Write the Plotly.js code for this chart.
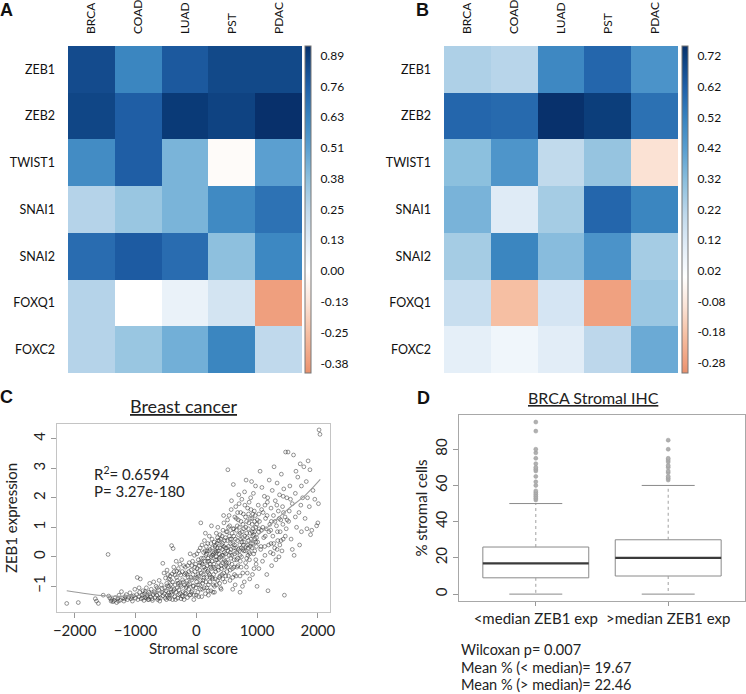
<!DOCTYPE html>
<html>
<head>
<meta charset="utf-8">
<script src="https://cdn.plot.ly/plotly-3.0.1.min.js"></script>
<style>html,body{margin:0;padding:0;background:#fff}#plot{width:746px;height:694px}</style>
</head>
<body>
<div id="plot"></div>
<script>
// ---------- DATA ----------
const heatCols = ['BRCA','COAD','LUAD','PST','PDAC'];
const heatRows = ['ZEB1','ZEB2','TWIST1','SNAI1','SNAI2','FOXQ1','FOXC2'];
const corrA = [
  [0.84, 0.63, 0.79, 0.85, 0.85],
  [0.86, 0.77, 0.90, 0.87, 0.93],
  [0.60, 0.77, 0.43, -0.02, 0.51],
  [0.28, 0.35, 0.43, 0.61, 0.70],
  [0.72, 0.78, 0.72, 0.38, 0.62],
  [0.28, 0.00, 0.09, 0.18, -0.37],
  [0.28, 0.35, 0.45, 0.63, 0.25]
];
const corrB = [
  [0.24, 0.22, 0.50, 0.60, 0.46],
  [0.60, 0.59, 0.75, 0.72, 0.57],
  [0.31, 0.45, 0.20, 0.29, -0.10],
  [0.35, 0.11, 0.26, 0.60, 0.51],
  [0.26, 0.51, 0.32, 0.46, 0.26],
  [0.18, -0.19, 0.14, -0.27, 0.28],
  [0.09, 0.05, 0.10, 0.21, 0.38]
];
const cbTicksA = ['0.89','0.76','0.63','0.51','0.38','0.25','0.13','0.00','-0.13','-0.25','-0.38'];
const cbTicksB = ['0.72','0.62','0.52','0.42','0.32','0.22','0.12','0.02','-0.08','-0.18','-0.28'];

// Panel C: stromal score vs ZEB1 expression
const stromalPoints = [
[-2130,-1.58],[-1940,-1.55],[-1660,-1.42],[-1640,-1.50],[-1610,-1.58],[-1530,-1.30],[-1450,0.08],[-1440,-1.33],
[-1420,-1.40],[-1390,-1.45],[-1370,-1.52],[-1350,-1.48],[-1330,-1.38],[-1310,-1.55],[-1290,-1.42],[-1270,-1.30],[-1250,-1.47],[-1230,-1.18],[-1210,-1.40],[-1190,-1.50],[-1170,-1.35],[-1150,-1.28],[-1130,-1.45],[-1110,-1.38],[-1090,-1.22],[-1070,-1.42],[-1050,-1.50],[-1030,-1.32],[-1010,-1.10],[-1000,-1.40],
[-980,-1.28],[-970,-0.70],[-960,-1.45],[-945,-1.35],[-930,-1.20],[-920,-0.75],[-905,-1.42],[-890,-1.30],[-875,-1.15],[-860,-1.48],[-850,-1.25],[-835,-1.38],[-820,-1.05],[-810,-1.32],[-795,-1.45],[-780,-1.20],[-765,-0.90],[-750,-1.35],[-740,-1.10],[-725,-1.42],[-710,-1.28],[-700,-0.85],[-690,-1.18],[-675,-1.38],[-660,-1.00],[-650,-1.30],[-635,-1.45],[-620,-1.12],[-610,-0.80],[-600,-1.25],[-590,-1.40],[-575,-0.95],[-565,-1.20],[-550,-0.22],[-545,-1.32],[-530,-0.55],[-520,-1.05],[-510,-1.40],[-505,-0.72],
[-495,-1.15],[-485,-0.90],[-475,-1.30],[-465,-0.60],[-455,-1.22],[-445,-1.00],[-435,-1.42],[-425,-0.78],[-415,-1.10],[-405,0.38],[-400,-1.28],[-390,-0.85],[-380,0.28],[-375,-1.15],[-365,-0.50],[-355,-1.35],[-345,-0.95],[-335,-1.20],[-325,-0.70],[-315,-1.05],[-305,-1.40],[-295,-0.40],[-285,-1.12],[-275,-0.88],[-265,-1.25],[-255,-0.62],[-245,-1.00],[-235,-1.32],[-225,-0.78],[-215,-1.18],[-205,-0.30],[-195,-0.95],[-185,-1.22],[-175,-0.55],[-165,-1.05],[-155,-0.82],[-145,-1.38],[-135,-0.68],[-125,-1.10],[-115,-0.20],[-105,-0.92],[-95,-1.28],[-85,-0.45],[-75,-0.78],[-65,-1.15],[-55,-0.60],[-45,-0.98],[-35,-1.30],[-25,-0.35],[-15,-0.72],[-5,-1.05],[-480,-0.45],[-430,-0.65],[-370,-0.35],[-330,-0.15],[-280,-0.55],[-240,-0.10],[-190,-0.60],[-140,-0.30],[-100,0.10],[-60,-0.15],[-20,-0.50],[-460,-1.38],[-390,-1.45],[-310,-0.80],[-250,-1.42],[-160,-1.00],[-80,-1.20],[-30,0.05],[-270,-0.25],[-120,-0.50],[-40,-1.45],[-200,-1.45],[-350,-0.62],[-420,-0.95],
[5,-0.85],[15,-0.40],[25,-1.20],[35,-0.10],[45,-0.65],[55,-0.95],[65,0.30],[75,1.15],[80,-0.55],[90,-1.35],[100,-0.25],[110,-0.80],[120,0.15],[130,-1.05],[140,-0.45],[150,-1.25],[160,0.05],[170,-0.70],[180,-0.30],[190,0.45],[200,-0.95],[210,-0.15],[220,-0.60],[230,0.25],[240,-1.15],[250,-0.40],[260,0.60],[270,-0.75],[280,0.10],[290,-0.25],[300,-1.00],[310,0.35],[320,-0.50],[330,0.80],[340,-0.10],[350,-0.80],[360,0.20],[370,-0.35],[380,0.55],[390,-0.65],[400,0.00],[410,-1.10],[420,0.40],[430,-0.20],[440,0.90],[450,-0.55],[460,0.15],[470,-0.85],[480,0.65],[490,-0.30],[500,0.30],
[10,0.10],[30,-0.60],[50,-0.30],[70,-1.10],[95,0.40],[115,-0.60],[135,0.55],[155,-0.40],[175,-1.05],[195,-0.05],[215,0.70],[235,-0.35],[255,0.05],[275,-1.20],[295,0.50],[315,-0.75],[335,0.15],[355,1.00],[375,-0.05],[395,0.30],[415,-0.40],[435,0.45],[455,1.15],[475,-0.15],[495,0.85],[60,-0.20],[105,-0.90],[145,0.20],[185,-0.15],[225,-0.85],[265,0.30],[305,-0.40],[345,0.45],[385,-0.90],[425,0.70],[465,-0.35],[40,-1.35],[85,-0.05],[125,-0.35],[165,0.35],[205,-0.55],[245,0.00],[285,-0.60],[325,0.20],[365,-0.20],[405,0.60],[445,0.05],[485,-0.65],[150,0.80],[250,1.05],[350,0.65],[450,1.40],[300,-1.20],[200,-1.30],[400,-1.05],
[505,-0.50],[515,1.25],[520,2.95],[525,0.20],[535,-0.20],[545,0.70],[555,-0.80],[565,0.45],[575,1.60],[585,0.05],[595,-0.40],[605,0.95],[615,0.30],[625,-0.10],[635,1.35],[645,0.60],[655,-0.65],[665,0.15],[675,1.05],[685,-0.30],[695,0.75],[705,1.80],[715,0.40],[725,-0.15],[735,1.20],[745,0.00],[755,0.85],[765,-0.55],[775,1.45],[785,0.50],[795,2.20],[805,0.20],[815,1.00],[825,-0.35],[835,0.65],[845,1.65],[855,0.30],[865,1.15],[875,-0.10],[885,0.80],[895,2.00],[905,0.45],[915,1.30],[925,-0.60],[935,0.95],[945,0.10],[955,1.55],[965,0.60],[975,2.40],[985,-0.25],[995,1.10],
[510,0.55],[530,-0.65],[550,1.05],[570,-0.05],[590,0.80],[610,2.45],[630,0.40],[650,1.70],[670,-0.35],[690,0.25],[710,1.00],[730,0.60],[750,1.95],[770,0.25],[790,-0.85],[810,1.35],[830,0.80],[850,0.05],[870,1.85],[890,0.35],[910,2.55],[930,0.70],[950,-0.40],[970,1.40],[990,0.35],[540,1.40],[600,-0.70],[660,0.90],[720,-0.65],[780,0.95],[840,-0.55],[900,1.60],[960,0.85],[560,0.15],[620,-0.35],[680,1.50],[740,0.30],[800,1.75],[860,0.55],[920,1.10],[980,-0.10],[580,1.90],[700,2.10],[820,2.60],[940,2.15],[640,-0.95],[760,-1.00],[880,-0.75],[600,-1.10],[720,-1.20],[1000,-1.00],
[1010,0.50],[1020,1.75],[1030,-0.40],[1040,1.20],[1050,2.90],[1060,0.25],[1070,0.90],[1080,2.35],[1090,-0.15],[1100,1.50],[1110,0.65],[1120,2.05],[1130,0.05],[1140,1.30],[1150,0.95],[1160,-0.60],[1170,1.85],[1180,-1.15],[1190,0.40],[1200,2.60],[1210,1.10],[1220,0.15],[1230,1.65],[1240,-0.30],[1250,2.25],[1260,0.70],[1270,1.40],[1280,3.05],[1290,0.30],[1300,1.90],[1310,-0.10],[1320,1.05],[1330,2.50],[1340,0.55],[1350,1.55],[1360,0.00],[1370,2.10],[1380,0.85],[1390,1.25],[1400,2.80],[1410,0.20],[1420,1.70],[1430,0.60],[1440,2.30],[1450,-1.30],[1460,1.35],[1470,3.55],[1480,0.95],[1490,2.00],
[1025,0.85],[1075,1.60],[1125,0.35],[1175,2.00],[1225,0.90],[1275,0.45],[1325,1.75],[1375,0.40],[1425,1.10],
[1510,3.55],[1520,1.20],[1540,2.40],[1560,0.60],[1580,1.80],[1600,3.45],[1610,0.05],[1630,2.15],[1650,1.00],[1670,2.70],[1690,1.50],[1710,3.15],[1730,0.85],[1750,2.00],[1770,3.05],[1790,1.30],[1810,2.55],[1840,3.25],[1860,1.70],[1880,0.75],[1900,0.90],[1920,2.25],[1950,1.95],[1980,1.05],[2000,1.15],[2010,1.80],[2020,4.30],[2035,4.15],[1550,1.95],[1640,2.90],[1720,1.75],[1820,0.95],[1870,2.95],[1700,0.40],[1580,0.25],
[-880,-1.40],[-840,-1.18],[-800,-1.38],[-760,-1.25],[-720,-1.48],[-680,-1.22],[-640,-1.05],[-600,-1.50],[-560,-1.08],[-525,-1.25],[-490,-1.45],[-470,-0.98],[-450,-0.75],[-440,-1.30],[-410,-1.20],[-395,-0.58],[-360,-1.10],[-340,-1.45],[-320,-0.48],[-300,-0.90],[-290,-1.28],[-260,-0.95],[-230,-0.50],[-220,-1.35],[-210,-0.85],[-180,-0.35],[-170,-1.25],[-150,-0.60],[-130,-0.95],[-110,-1.30],[-90,-0.70],[-70,-0.30],[-50,-1.00],[-10,-0.25],[0,-1.30],
[12,-0.70],[28,-0.95],[42,0.20],[58,-0.45],[72,-0.80],[88,-0.20],[102,-1.10],[118,-0.05],[128,-0.70],[142,-0.15],[158,-0.85],[172,0.10],[188,-0.50],[198,-1.15],[212,0.20],[228,-0.25],[242,0.45],[258,-0.70],[272,0.05],[288,-0.35],[302,0.15],[318,-0.10],[332,-0.95],[348,0.30],[362,-0.45],[378,0.10],[392,0.75],[408,-0.30],[422,0.05],[438,-0.75],[452,0.35],[468,0.55],[482,0.10],[498,-0.20],[512,0.85],[528,0.35],[542,0.05],[558,0.60],[572,0.25],[588,-0.25],[602,0.45],[618,0.70],[632,0.10],[648,0.30],[662,-0.10],[678,0.55],[692,1.25],[708,0.20],[722,0.80],[738,-0.35],[752,0.50],[768,1.10],[782,0.20],[798,0.70],[812,-0.20],[828,1.20],[842,0.40],[858,0.95],[872,0.15],[888,1.30],[902,0.60],[918,0.30],[932,1.45],[948,0.75],[962,0.20],[978,1.00],[992,0.65],[1005,1.25],[1035,0.95],[1065,0.35],[1095,1.00],[1135,0.70],[1165,1.40],[1195,0.85],[1235,1.20],[1265,0.10],[1295,1.20],[1335,0.85],[1365,1.30],[1395,0.55],[1435,1.50],[1465,0.70],[1495,1.25],
[320,0.40],[420,-0.60],[520,-0.35],[620,0.95],[720,0.05],[820,0.35],[920,0.85],[260,-0.15],[360,0.55],[460,-0.10],[560,-0.45],[660,1.30],[760,0.65],[860,1.45],[960,1.20],[180,0.20],[280,-0.95],[380,-0.70],[480,0.30],[580,0.60],[680,-0.05],[780,0.40],[880,0.10],[980,0.50],[230,-0.70],[330,0.00],[430,0.25],[530,1.00],[630,-0.60],[730,1.50],[830,-0.05],[930,0.45],[1030,1.45],[1130,1.75],[1230,0.45],[1330,0.25],[1430,2.05],[1530,1.55],[1630,1.35],[1730,2.40],[1830,2.00],[-620,-1.40],[-780,-1.45],[-940,-1.05],[-1060,-1.35],[-1180,-1.42],[-1280,-1.50],[-1400,-1.50]
];
const fitX = [-2130,-1800,-1500,-1200,-900,-600,-300,0,300,600,900,1200,1500,1800,2040];
const fitY = [-1.15,-1.25,-1.32,-1.34,-1.30,-1.18,-0.98,-0.70,-0.35,0.08,0.55,1.05,1.60,2.10,2.62];

// Panel D: box plot summary
const boxGroups = ['<median ZEB1 exp', '>median ZEB1 exp'];
const boxQ1 = [9, 10];
const boxMedian = [17, 20];
const boxQ3 = [26, 30];
const whiskerLow = [0, 0];
const whiskerHigh = [50, 60];
const outliersLowGroup = [52,53,54,55,56,57,60,62,65,68,69,70,72,75,78,80,90,95];
const outliersHighGroup = [63,64,65,67,68,70,71,73,74,75,80,85];

// ---------- HELPERS ----------
const W = 746, H = 694;
const px = x => x / W;
const py = y => 1 - y / H;
const FONT = 'Lato, "Open Sans", sans-serif';

function lerpStops(stops, lo, hi) { return stops.map(s => [lo + s[0] * (hi - lo), s[1]]); }
function makeScale(zmin, zmax) {
  const p0 = -zmin / (zmax - zmin);
  const neg = [[0,'#e8906c'],[0.1,'#ef9d7b'],[0.4,'#f6c0a4'],[0.69,'#fbe3d6'],[1,'#ffffff']];
  const pos = [[0,'#ffffff'],[0.14,'#e0ecf7'],[0.27,'#c0d9ec'],[0.41,'#8dc0de'],[0.55,'#5a9fd0'],[0.68,'#3a85c0'],[0.82,'#2060a8'],[0.96,'#0b3d7a'],[1,'#08306b']];
  const a = lerpStops(neg, 0, p0);
  const b = lerpStops(pos, p0, 1).slice(1);
  return a.concat(b);
}
function evenVals(labels) {
  const first = parseFloat(labels[0]), last = parseFloat(labels[labels.length - 1]);
  return labels.map((_, i) => first + (last - first) * i / (labels.length - 1));
}

const zA = [-0.42, 0.93], zB = [-0.313, 0.753];

function heat(z, xa, ya, zr, ticks, cbx) {
  return {
    type: 'heatmap', x: heatCols, y: heatRows, z: z, xaxis: xa, yaxis: ya,
    zmin: zr[0], zmax: zr[1], colorscale: makeScale(zr[0], zr[1]),
    hoverinfo: 'skip',
    colorbar: {
      x: px(cbx), xanchor: 'left', xref: 'paper', xpad: 0, ypad: 0,
      y: py(373), yanchor: 'bottom', len: 327 / H, lenmode: 'fraction',
      thickness: 6, outlinewidth: 1, outlinecolor: '#777',
      tickvals: evenVals(ticks), ticktext: ticks, ticks: 'outside', ticklen: 7, tickcolor: 'rgba(0,0,0,0)',
      tickfont: {family: FONT, size: 12, color: '#111'}
    }
  };
}

const traces = [];
traces.push(heat(corrA, 'x', 'y', zA, cbTicksA, 305));
traces.push(heat(corrB, 'x2', 'y2', zB, cbTicksB, 682));

// scatter C
traces.push({
  type: 'scatter', mode: 'markers', xaxis: 'x3', yaxis: 'y3',
  x: stromalPoints.map(p => p[0]), y: stromalPoints.map(p => p[1]),
  marker: {symbol: 'circle-open', size: 3.8, color: 'rgba(40,40,40,0.7)', line: {width: 0.7}},
  hoverinfo: 'skip', showlegend: false
});
traces.push({
  type: 'scatter', mode: 'lines', xaxis: 'x3', yaxis: 'y3',
  x: fitX, y: fitY, line: {color: '#9a9a9a', width: 1.1, shape: 'spline'},
  hoverinfo: 'skip', showlegend: false
});

// box plot D built from summary arrays
const half = 0.4, staple = 0.2;
boxGroups.forEach((g, i) => {
  const c = i + 1;
  traces.push({type: 'scatter', mode: 'lines', xaxis: 'x4', yaxis: 'y4', showlegend: false, hoverinfo: 'skip',
    x: [c - half, c + half, c + half, c - half, c - half],
    y: [boxQ1[i], boxQ1[i], boxQ3[i], boxQ3[i], boxQ1[i]],
    line: {color: '#8a8a8a', width: 1}});
  traces.push({type: 'scatter', mode: 'lines', xaxis: 'x4', yaxis: 'y4', showlegend: false, hoverinfo: 'skip',
    x: [c - half, c + half], y: [boxMedian[i], boxMedian[i]], line: {color: '#3a3a3a', width: 2.2}});
  traces.push({type: 'scatter', mode: 'lines', xaxis: 'x4', yaxis: 'y4', showlegend: false, hoverinfo: 'skip',
    x: [c, c, null, c, c], y: [boxQ3[i], whiskerHigh[i], null, boxQ1[i], whiskerLow[i]],
    line: {color: '#a0a0a0', width: 1, dash: 'dot'}});
  traces.push({type: 'scatter', mode: 'lines', xaxis: 'x4', yaxis: 'y4', showlegend: false, hoverinfo: 'skip',
    x: [c - staple, c + staple, null, c - staple, c + staple],
    y: [whiskerHigh[i], whiskerHigh[i], null, whiskerLow[i], whiskerLow[i]],
    line: {color: '#8a8a8a', width: 1}});
});
[outliersLowGroup, outliersHighGroup].forEach((arr, i) => {
  traces.push({type: 'scatter', mode: 'markers', xaxis: 'x4', yaxis: 'y4', showlegend: false, hoverinfo: 'skip',
    x: arr.map(() => i + 1), y: arr,
    marker: {symbol: 'circle', size: 4, color: '#b0b0b0', line: {color: '#999', width: 0.5}}});
});

const tf = (s, c) => ({family: FONT, size: s, color: c || '#222'});
const LET = {family: 'Liberation Sans, Arial, sans-serif', size: 18, color: '#111'};
function note(text, x, y, font, xanchor) {
  return {text: text, x: px(x), y: py(y), xref: 'paper', yref: 'paper', xanchor: xanchor || 'center', yanchor: 'middle', showarrow: false, font: font};
}

const layout = {
  width: W, height: H, margin: {l: 0, r: 0, t: 0, b: 0},
  paper_bgcolor: '#fff', plot_bgcolor: '#fff', showlegend: false,
  font: {family: FONT, color: '#222'},
  xaxis: {domain: [px(68), px(302)], anchor: 'y', side: 'top', tickangle: -90, ticks: '',
    showgrid: false, zeroline: false, showline: false, tickfont: tf(12, '#111'), ticklabelstandoff: 11},
  yaxis: {domain: [py(373), py(46)], anchor: 'x', autorange: 'reversed', ticks: '',
    showgrid: false, zeroline: false, showline: false, tickfont: tf(12.5, '#111'), ticklabelstandoff: 12},
  xaxis2: {domain: [px(444), px(678)], anchor: 'y2', side: 'top', tickangle: -90, ticks: '',
    showgrid: false, zeroline: false, showline: false, tickfont: tf(12, '#111'), ticklabelstandoff: 11},
  yaxis2: {domain: [py(373), py(46)], anchor: 'x2', autorange: 'reversed', ticks: '',
    showgrid: false, zeroline: false, showline: false, tickfont: tf(12.5, '#111'), ticklabelstandoff: 12},
  xaxis3: {domain: [px(57), px(330)], anchor: 'y3', range: [-2290, 2200],
    tickvals: [-2000, -1000, 0, 1000, 2000], ticks: 'outside', ticklen: 5, tickcolor: '#999',
    showline: true, mirror: true, linecolor: '#c4c4c4', linewidth: 1.2, showgrid: false, zeroline: false,
    tickfont: tf(15), title: {text: 'Stromal score', font: tf(15), standoff: 2}},
  yaxis3: {domain: [py(612), py(424)], anchor: 'x3', range: [-1.87, 4.5],
    tickvals: [-1, 0, 1, 2, 3, 4], ticks: 'outside', ticklen: 5, tickcolor: '#999', tickangle: -90,
    showline: true, mirror: true, linecolor: '#c4c4c4', linewidth: 1.2, showgrid: false, zeroline: false,
    tickfont: tf(15), title: {text: 'ZEB1 expression', font: tf(15), standoff: 8}},
  xaxis4: {domain: [px(459), px(745)], anchor: 'y4', range: [0.42, 2.58],
    tickvals: [1, 2], ticktext: boxGroups, ticks: 'outside', ticklen: 4, tickcolor: '#999',
    showline: true, mirror: true, linecolor: '#a8a8a8', linewidth: 1, showgrid: false, zeroline: false,
    tickfont: tf(15)},
  yaxis4: {domain: [py(601), py(415)], anchor: 'x4', range: [-3.8, 98.9],
    tickvals: [0, 20, 40, 60, 80], ticks: 'outside', ticklen: 5, tickcolor: '#999', tickangle: -90,
    showline: true, mirror: true, linecolor: '#a8a8a8', linewidth: 1, showgrid: false, zeroline: false,
    tickfont: tf(15), title: {text: '% stromal cells', font: tf(15), standoff: 0}},
  annotations: [
    note('<b>A</b>', 7, 10, LET),
    note('<b>B</b>', 422, 10, LET),
    note('<b>C</b>', 6, 397, LET),
    note('<b>D</b>', 423, 398, LET),
    note('<u>Breast cancer</u>', 183, 406, tf(18)),
    note('<u>BRCA Stromal IHC</u>', 593, 397, tf(16)),
    note('R<sup>2</sup>= 0.6594', 92, 473, tf(15), 'left'),
    note('P= 3.27e-180', 92, 491, tf(15), 'left'),
    note('Wilcoxan p= 0.007', 459, 649, tf(14.5), 'left'),
    note('Mean % (< median)= 19.67', 459, 667, tf(14.5), 'left'),
    note('Mean % (> median)= 22.46', 459, 684, tf(14.5), 'left')
  ]
};

Plotly.newPlot('plot', traces, layout, {staticPlot: true, displayModeBar: false});
</script>
</body>
</html>
